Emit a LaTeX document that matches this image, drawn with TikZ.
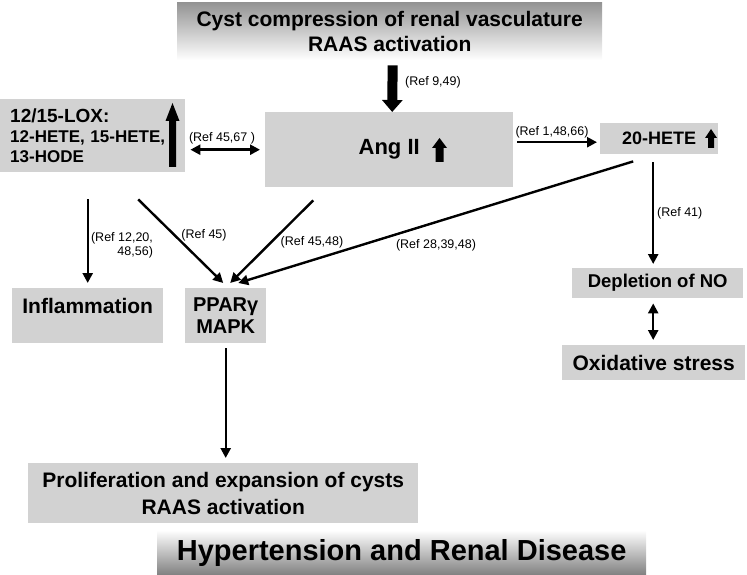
\documentclass[tikz,border=0pt]{standalone}
\usepackage{fontspec}
\setmainfont{Liberation Sans}
\usetikzlibrary{arrows.meta}

\tikzset{
  box/.style={fill=gray!35, inner sep=0pt, anchor=north west, align=center},
  arr/.style={line width=2.4pt, -{Triangle[width=10pt,length=10pt]}},
  dblarr/.style={line width=2.4pt, {Triangle[width=10pt,length=10pt]}-{Triangle[width=10pt,length=10pt]}},
  ref/.style={font=\fontsize{12.5}{14}\selectfont, inner sep=0pt, align=right},
}

% block up arrow: x, top, bottom, half shaft, half head, head length
\newcommand{\blockarrow}[6]{%
  \fill ({#1-#4},#3) -- ({#1-#4},{#2+#6}) -- ({#1-#5},{#2+#6}) -- (#1,#2)
    -- ({#1+#5},{#2+#6}) -- ({#1+#4},{#2+#6}) -- ({#1+#4},#3) -- cycle;}

\begin{document}
\begin{tikzpicture}[x=1pt,y=-1pt]
  \useasboundingbox (0,0) rectangle (747,575);

  % boxes
  \node[box, top color=gray!85, bottom color=white, minimum width=425pt, minimum height=58pt,
    font=\bfseries\fontsize{21}{25}\selectfont] (cyst) at (177,2)
    {Cyst compression of renal vasculature\\RAAS activation};
  \node[box, minimum width=185pt, minimum height=73pt, text width=165pt, inner xsep=10pt, align=left,
    font=\bfseries\fontsize{17}{20}\selectfont] (lox) at (0,99)
    {{\fontsize{19}{22}\selectfont 12/15-LOX:}\\12-HETE, 15-HETE,\\13-HODE};
  \node[box, minimum width=248pt, minimum height=75pt, font=\bfseries\fontsize{22}{26}\selectfont] (ang) at (265,112) {Ang II};
  \node[box, minimum width=118pt, minimum height=31pt, font=\bfseries\fontsize{18}{22}\selectfont] (hete) at (600,123) {20-HETE};
  \node[box, minimum width=151pt, minimum height=55pt, text depth=20pt, font=\bfseries\fontsize{21}{25}\selectfont] (infl) at (12,288) {Inflammation};
  \node[box, minimum width=81pt, minimum height=55pt, font=\bfseries\fontsize{20}{22}\selectfont] (ppar) at (185,288) {PPARγ\\MAPK};
  \node[box, minimum width=171pt, minimum height=30pt, font=\bfseries\fontsize{18.5}{22}\selectfont] (dep) at (572,268) {Depletion of NO};
  \node[box, minimum width=183pt, minimum height=35pt, font=\bfseries\fontsize{21}{25}\selectfont] (oxi) at (562,345) {Oxidative stress};
  \node[box, minimum width=390pt, minimum height=60pt, font=\bfseries\fontsize{21}{27}\selectfont] (prol) at (28,463)
    {Proliferation and expansion of cysts\\RAAS activation};
  \node[box, top color=white, bottom color=gray, minimum width=489pt, minimum height=45pt,
    font=\bfseries\fontsize{29}{32}\selectfont] (hyp) at (157,530) {Hypertension and Renal Disease};

  % up arrows in the boxes
  \blockarrow{172.5}{103}{167}{3.5}{7}{18}
  \blockarrow{439.5}{138}{162}{4}{7.5}{10}
  \blockarrow{711}{129}{148}{3}{6}{9}

  % connectors
  \draw[line width=10pt, -{Triangle[width=20pt,length=12pt]}, shorten <=5pt]
    ([xshift=3pt]cyst.south) -- ([xshift=3pt]ang.north);
  \draw[dblarr, shorten <=5pt, shorten >=5pt] (lox.east |- ang.west) -- (ang.west);
  \draw[arr, shorten <=4pt, shorten >=3pt] ([yshift=7.5pt]ang.east) -- ([yshift=7.5pt]ang.east -| hete.west);
  \draw[arr, shorten <=8pt, shorten >=4pt] ([xshift=-6pt]hete.south) -- ([xshift=-6pt]hete.south |- dep.north);
  \draw[dblarr, shorten <=5pt, shorten >=5pt] ([xshift=-4.5pt]dep.south) -- ([xshift=-4.5pt]dep.south |- oxi.north);
  \draw[arr, shorten <=27pt, shorten >=5pt] (infl.north |- lox.south) -- (infl.north);
  \draw[arr] ([xshift=45.5pt,yshift=-27pt]lox.south) -- ([xshift=-2.5pt,yshift=5pt]ppar.north);
  \draw[arr] ([xshift=-76pt,yshift=-13pt]ang.south) -- ([xshift=4.5pt,yshift=5pt]ppar.north);
  \draw[arr] ([xshift=-26pt,yshift=-7pt]hete.south) -- ([xshift=12.5pt,yshift=5pt]ppar.north);
  \draw[arr, shorten <=5pt, shorten >=5pt] (ppar.south) -- (ppar.south |- prol.north);

  % references
  \node[ref, anchor=west] (r949) at (405,82) {(Ref 9,49)};
  \node[ref] (r4567) at (222,138) {(Ref 45,67 )};
  \node[ref] (r14866) at (552,132) {(Ref 1,48,66)};
  \node[ref, anchor=west] (r41) at (657,213) {(Ref 41)};
  \node[ref] (r12205) at (122,245) {(Ref 12,20,\\48,56)};
  \node[ref] (r45) at (204,235) {(Ref 45)};
  \node[ref] (r4548) at (312,242) {(Ref 45,48)};
  \node[ref] (r283948) at (436,245) {(Ref 28,39,48)};
\end{tikzpicture}
\end{document}
